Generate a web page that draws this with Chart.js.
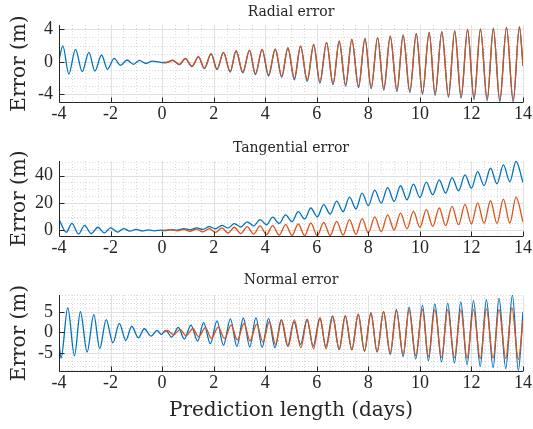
<!DOCTYPE html>
<html><head><meta charset="utf-8">
<script src="https://cdn.jsdelivr.net/npm/chart.js@4.4.1/dist/chart.umd.min.js"></script>
<style>
html,body{margin:0;padding:0;background:#fff;}
body{width:533px;height:429px;position:relative;overflow:hidden;}
canvas{position:absolute;left:0;}
</style></head><body>
<canvas id="c1" width="533" height="130" style="top:0px"></canvas>
<canvas id="c2" width="533" height="135" style="top:130px"></canvas>
<canvas id="c3" width="533" height="164" style="top:265px"></canvas>
<script>
// ---------- data (days, metres) ----------
const xTicks = [-4, -2, 0, 2, 4, 6, 8, 10, 12, 14];
const xTickLabels = ['-4', '-2', '0', '2', '4', '6', '8', '10', '12', '14'];
const radialTicks = [-4, 0, 4];
const radialTickLabels = ['-4', '0', '4'];
const tangentialTicks = [0, 20, 40];
const tangentialTickLabels = ['0', '20', '40'];
const normalTicks = [-5, 0, 5];
const normalTickLabels = ['-5', '0', '5'];
const titles = ['Radial error', 'Tangential error', 'Normal error'];
const yLabel = 'Error (m)';
const xLabel = 'Prediction length (days)';

// [time (days), error (m)] at the oscillation extremes
const radialBlue = [[-4.0,0.2],[-3.85,1.95],[-3.62,-1.5],[-3.36,1.54],[-3.10,-1.2],[-2.84,1.17],[-2.61,-1.13],[-2.35,0.84],[-2.12,-0.92],[-1.86,0.43],[-1.61,-0.43],[-1.36,0.23],[-1.11,-0.3],[-0.88,0.18],[-0.62,-0.2],[-0.39,0.1],[0.1,-0.12],[0.41,0.18],[0.67,-0.35],[0.9,0.4],[1.16,-0.58],[1.41,0.6],[1.64,-0.82],[1.9,0.98],[2.13,-0.95],[2.38,1.13],[2.64,-1.25],[2.87,1.33],[3.13,-1.35],[3.39,1.4],[3.62,-1.57],[3.88,1.5],[4.13,-1.75],[4.39,1.55],[4.64,-1.9],[4.88,1.7],[5.13,-2.2],[5.37,1.9],[5.63,-2.38],[5.88,2.1],[6.12,-2.6],[6.38,2.35],[6.63,-2.8],[6.87,2.5],[7.12,-2.97],[7.36,2.72],[7.62,-3.15],[7.87,2.84],[8.11,-3.3],[8.36,2.96],[8.6,-3.47],[8.85,3.13],[9.11,-3.62],[9.35,3.25],[9.61,-3.76],[9.86,3.45],[10.1,-3.97],[10.36,3.58],[10.59,-4.12],[10.85,3.65],[11.11,-4.33],[11.35,3.78],[11.6,-4.45],[11.85,3.95],[12.1,-4.62],[12.35,3.99],[12.61,-4.77],[12.85,4.07],[13.1,-4.86],[13.36,4.19],[13.62,-4.9],[13.86,4.27],[14.0,-0.5]];
const radialOrange = [[0.05,0],[0.17,-0.1],[0.41,0.2],[0.67,-0.3],[0.9,0.43],[1.16,-0.52],[1.41,0.64],[1.64,-0.76],[1.9,1.0],[2.13,-0.88],[2.38,1.17],[2.64,-1.17],[2.87,1.37],[3.13,-1.25],[3.39,1.45],[3.62,-1.45],[3.88,1.54],[4.13,-1.6],[4.39,1.6],[4.64,-1.75],[4.88,1.74],[5.13,-2.0],[5.37,1.95],[5.63,-2.2],[5.88,2.15],[6.12,-2.44],[6.38,2.4],[6.63,-2.64],[6.87,2.56],[7.12,-2.8],[7.36,2.77],[7.62,-2.97],[7.87,2.89],[8.11,-3.14],[8.36,3.01],[8.6,-3.3],[8.85,3.18],[9.11,-3.46],[9.35,3.3],[9.61,-3.59],[9.86,3.5],[10.1,-3.8],[10.36,3.63],[10.59,-3.95],[10.85,3.7],[11.11,-4.16],[11.35,3.83],[11.6,-4.28],[11.85,4.0],[12.1,-4.45],[12.35,4.04],[12.61,-4.6],[12.85,4.12],[13.1,-4.7],[13.36,4.24],[13.62,-4.72],[13.86,4.32],[14.0,-0.4]];

const tangentialBlue = [[-4.0,8.0],[-3.72,-1.5],[-3.5,5.0],[-3.24,-2.7],[-3.01,3.6],[-2.75,-2.4],[-2.49,2.2],[-2.24,-1.9],[-2.0,1.7],[-1.72,-1.3],[-1.49,1.2],[-1.25,-0.7],[-1.01,0.7],[-0.77,-0.5],[-0.53,0.3],[-0.3,-0.4],[-0.05,0.1],[0.1,-0.3],[0.34,0.5],[0.59,0.0],[0.84,1.2],[1.08,0.3],[1.33,1.8],[1.58,0.6],[1.83,2.6],[2.07,1.1],[2.32,3.6],[2.56,1.6],[2.8,4.8],[3.05,2.4],[3.3,6.2],[3.55,3.2],[3.8,7.8],[4.05,4.0],[4.29,9.6],[4.54,5.0],[4.79,11.2],[5.04,6.3],[5.28,13.6],[5.53,8.3],[5.77,16.3],[6.02,9.8],[6.27,18.8],[6.52,11.8],[6.77,21.4],[7.02,13.6],[7.27,24.2],[7.52,15.6],[7.76,27.2],[8.0,18.0],[8.25,29.4],[8.5,19.8],[8.75,31.2],[9.0,21.1],[9.25,32.6],[9.5,22.3],[9.75,33.7],[10.0,24.0],[10.25,35.2],[10.5,26.0],[10.75,36.9],[11.0,27.2],[11.25,38.5],[11.5,28.9],[11.75,40.5],[12.0,30.8],[12.24,42.9],[12.49,32.7],[12.74,45.4],[12.99,34.0],[13.24,47.8],[13.49,35.6],[13.73,50.5],[14.0,35.0]];
const tangentialOrange = [[0.05,0],[0.34,0.3],[0.59,-0.4],[0.84,0.6],[1.08,-0.8],[1.33,0.9],[1.58,-1.2],[1.83,1.2],[2.07,-1.6],[2.32,1.7],[2.56,-2.0],[2.8,2.2],[3.05,-2.4],[3.3,2.7],[3.55,-2.8],[3.8,3.2],[4.05,-3.2],[4.29,3.4],[4.54,-3.6],[4.79,4.1],[5.04,-3.8],[5.28,4.6],[5.53,-3.9],[5.77,5.3],[6.02,-4.0],[6.27,5.8],[6.52,-3.9],[6.77,6.5],[7.02,-3.6],[7.27,7.8],[7.52,-3.0],[7.76,8.5],[8.0,-2.0],[8.25,9.8],[8.5,-1.0],[8.75,11.2],[9.0,0.2],[9.25,12.6],[9.5,1.1],[9.75,13.8],[10.0,2.1],[10.25,15.1],[10.5,2.8],[10.75,16.3],[11.0,3.4],[11.25,17.5],[11.5,4.0],[11.75,19.0],[12.0,4.6],[12.24,20.0],[12.49,5.1],[12.74,21.6],[12.99,5.0],[13.24,22.8],[13.49,5.3],[13.73,24.3],[14.0,6.0]];

const normalBlue = [[-4.0,-2.5],[-3.92,-6.2],[-3.66,6.0],[-3.40,-5.6],[-3.17,5.0],[-2.91,-4.7],[-2.65,4.3],[-2.42,-3.9],[-2.17,3.1],[-1.91,-2.5],[-1.66,2.2],[-1.41,-1.9],[-1.18,1.5],[-0.92,-1.3],[-0.69,0.9],[-0.43,-0.9],[-0.2,0.5],[-0.03,-0.5],[0.14,0.5],[0.37,-1.1],[0.63,1.2],[0.86,-1.6],[1.12,1.8],[1.38,-2.1],[1.61,2.4],[1.87,-2.7],[2.13,2.8],[2.38,-3.1],[2.65,3.3],[2.9,-3.4],[3.15,3.5],[3.4,-3.5],[3.64,3.6],[3.88,-3.6],[4.13,3.4],[4.38,-3.7],[4.62,3.1],[4.87,-3.3],[5.11,2.6],[5.37,-2.9],[5.62,3.1],[5.86,-3.3],[6.12,3.5],[6.35,-3.5],[6.61,4.0],[6.87,-4.1],[7.1,4.0],[7.36,-4.1],[7.61,4.4],[7.85,-4.5],[8.1,4.7],[8.34,-4.7],[8.59,5.0],[8.85,-5.3],[9.09,5.6],[9.35,-5.8],[9.58,6.1],[9.84,-6.4],[10.1,6.6],[10.33,-6.8],[10.58,6.9],[10.84,-7.1],[11.08,7.1],[11.34,-7.4],[11.59,7.4],[11.83,-7.8],[12.08,7.7],[12.34,-8.2],[12.58,7.9],[12.84,-8.5],[13.07,8.2],[13.33,-8.7],[13.59,9.0],[13.82,-9.2],[14.0,5.0]];
const normalOrange = [[0.05,0],[0.2,0.5],[0.44,-0.5],[0.7,0.7],[0.93,-0.8],[1.19,0.9],[1.42,-1.0],[1.68,1.15],[1.91,-1.4],[2.18,1.3],[2.42,-1.5],[2.68,1.8],[2.92,-1.8],[3.18,2.2],[3.41,-2.0],[3.67,2.0],[3.91,-2.3],[4.16,2.6],[4.4,-2.9],[4.64,3.0],[4.89,-3.4],[5.13,3.1],[5.38,-3.7],[5.63,3.2],[5.87,-3.9],[6.13,3.5],[6.36,-3.9],[6.62,3.8],[6.87,-4.1],[7.11,4.0],[7.36,-4.2],[7.61,4.4],[7.85,-4.5],[8.1,4.7],[8.34,-4.7],[8.59,5.0],[8.85,-5.0],[9.09,5.2],[9.35,-5.3],[9.58,5.4],[9.84,-5.6],[10.1,5.5],[10.33,-5.8],[10.58,5.5],[10.84,-6.0],[11.08,5.5],[11.34,-6.1],[11.59,5.5],[11.83,-6.2],[12.08,5.5],[12.34,-6.3],[12.58,5.7],[12.84,-6.2],[13.07,5.6],[13.33,-6.3],[13.57,6.0],[13.82,-6.5],[14.0,3.0]];

// ---------- styling ----------
const BLUE = '#0072BD', ORANGE = '#D95319', TEXT = '#262626';
const SERIF = 'DejaVu Serif', TICKFONT = 'Liberation Serif';

const toXY = arr => arr.map(p => ({x: p[0], y: p[1]}));

function minorValues(min, max, step, majors) {
  const out = [];
  const n0 = Math.ceil(min / step - 1e-9), n1 = Math.floor(max / step + 1e-9);
  for (let n = n0; n <= n1; n++) {
    const v = +(n * step).toFixed(6);
    if (!majors.some(m => Math.abs(m - v) < 1e-6)) out.push(v);
  }
  return out;
}

const matlabAxes = {
  id: 'matlabAxes',
  beforeDatasetsDraw(chart, args, o) {
    const {ctx, chartArea: a, scales: {x, y}} = chart;
    ctx.save();
    ctx.lineWidth = 1;
    ctx.strokeStyle = '#d9d9d9';
    ctx.setLineDash([1, 2]);
    minorValues(x.min, x.max, o.xMinor, xTicks).forEach(v => {
      const p = Math.round(x.getPixelForValue(v)) + 0.5;
      ctx.beginPath(); ctx.moveTo(p, a.top); ctx.lineTo(p, a.bottom); ctx.stroke();
    });
    minorValues(y.min, y.max, o.yMinor, o.yMajor).forEach(v => {
      const p = Math.round(y.getPixelForValue(v)) + 0.5;
      ctx.beginPath(); ctx.moveTo(a.left, p); ctx.lineTo(a.right, p); ctx.stroke();
    });
    ctx.setLineDash([]);
    ctx.strokeStyle = '#e0e0e0';
    xTicks.forEach(v => {
      const p = Math.round(x.getPixelForValue(v)) + 0.5;
      ctx.beginPath(); ctx.moveTo(p, a.top); ctx.lineTo(p, a.bottom); ctx.stroke();
    });
    o.yMajor.forEach(v => {
      const p = Math.round(y.getPixelForValue(v)) + 0.5;
      ctx.beginPath(); ctx.moveTo(a.left, p); ctx.lineTo(a.right, p); ctx.stroke();
    });
    ctx.restore();
  },
  afterDatasetsDraw(chart, args, o) {
    const {ctx, chartArea: a, scales: {x, y}} = chart;
    ctx.save();
    ctx.strokeStyle = TEXT;
    ctx.lineWidth = 1;
    const L = Math.round(a.left) + 0.5, B = Math.round(a.bottom) + 0.5;
    ctx.beginPath(); ctx.moveTo(L, a.top); ctx.lineTo(L, B); ctx.lineTo(a.right, B); ctx.stroke();
    xTicks.forEach(v => {
      const p = Math.round(x.getPixelForValue(v)) + 0.5;
      ctx.beginPath(); ctx.moveTo(p, B); ctx.lineTo(p, B - 5); ctx.stroke();
    });
    o.yMajor.forEach(v => {
      const p = Math.round(y.getPixelForValue(v)) + 0.5;
      ctx.beginPath(); ctx.moveTo(L, p); ctx.lineTo(L + 5, p); ctx.stroke();
    });
    ctx.restore();
  }
};

function makeChart(id, cfg) {
  const ds = (data, color) => ({
    data: toXY(data), borderColor: color, borderWidth: 1.3, pointRadius: 0,
    tension: 0.4, cubicInterpolationMode: 'monotone', fill: false,
    borderJoinStyle: 'round', borderCapStyle: 'butt', clip: 0
  });
  return new Chart(document.getElementById(id), {
    type: 'line',
    data: {datasets: [ds(cfg.orange, ORANGE), ds(cfg.blue, BLUE)]},
    options: {
      responsive: false, animation: false, devicePixelRatio: 1,
      layout: {padding: {left: 0, right: 10, top: 0, bottom: 0}},
      events: [],
      plugins: {
        legend: {display: false}, tooltip: {enabled: false},
        title: {display: true, text: cfg.title, fullSize: false, color: TEXT,
          font: {family: SERIF, size: 14, weight: 'normal'}, padding: cfg.titlePad},
        matlabAxes: {xMinor: 0.5, yMinor: cfg.yMinor, yMajor: cfg.yTicks}
      },
      scales: {
        x: {
          type: 'linear', min: -4, max: 14,
          grid: {display: false, drawTicks: false}, border: {display: false},
          afterBuildTicks: s => { s.ticks = xTicks.map(v => ({value: v})); },
          ticks: {font: {family: TICKFONT, size: 18}, color: TEXT, padding: 1,
            maxRotation: 0, autoSkip: false,
            callback: (v) => xTickLabels[xTicks.indexOf(v)]},
          title: cfg.xTitle ? {display: true, text: xLabel, color: TEXT,
            font: {family: SERIF, size: 20, weight: 'normal'}, padding: {top: 0, bottom: 6}} : {display: false},
          afterFit: s => { s.height = cfg.xh; s.paddingLeft = 0; s.paddingRight = 0; }
        },
        y: {
          type: 'linear', min: cfg.ymin, max: cfg.ymax,
          grid: {display: false, drawTicks: false}, border: {display: false},
          afterBuildTicks: s => { s.ticks = cfg.yTicks.map(v => ({value: v})); },
          ticks: {font: {family: TICKFONT, size: 18}, color: TEXT, padding: 6,
            autoSkip: false, callback: (v) => cfg.yTickLabels[cfg.yTicks.indexOf(v)]},
          title: {display: true, text: yLabel, color: TEXT,
            font: {family: SERIF, size: 20, weight: 'normal'}, padding: {top: 8, bottom: 0}},
          afterFit: s => { s.width = 59; s.paddingTop = 0; s.paddingBottom = 0; }
        }
      }
    },
    plugins: [matlabAxes]
  });
}

makeChart('c1', {title: titles[0], blue: radialBlue, orange: radialOrange,
  yTicks: radialTicks, yTickLabels: radialTickLabels, ymin: -4.92, ymax: 4.52, yMinor: 1,
  titlePad: {top: 4, bottom: 4.2}, xh: 28, xTitle: false});
makeChart('c2', {title: titles[1], blue: tangentialBlue, orange: tangentialOrange,
  yTicks: tangentialTicks, yTickLabels: tangentialTickLabels, ymin: -4.2, ymax: 50.7, yMinor: 5,
  titlePad: {top: 9.6, bottom: 4.6}, xh: 29, xTitle: false});
makeChart('c3', {title: titles[2], blue: normalBlue, orange: normalOrange,
  yTicks: normalTicks, yTickLabels: normalTickLabels, ymin: -9.3, ymax: 9.05, yMinor: 1,
  titlePad: {top: 6.6, bottom: 6.6}, xh: 58, xTitle: true});
</script>
</body></html>
